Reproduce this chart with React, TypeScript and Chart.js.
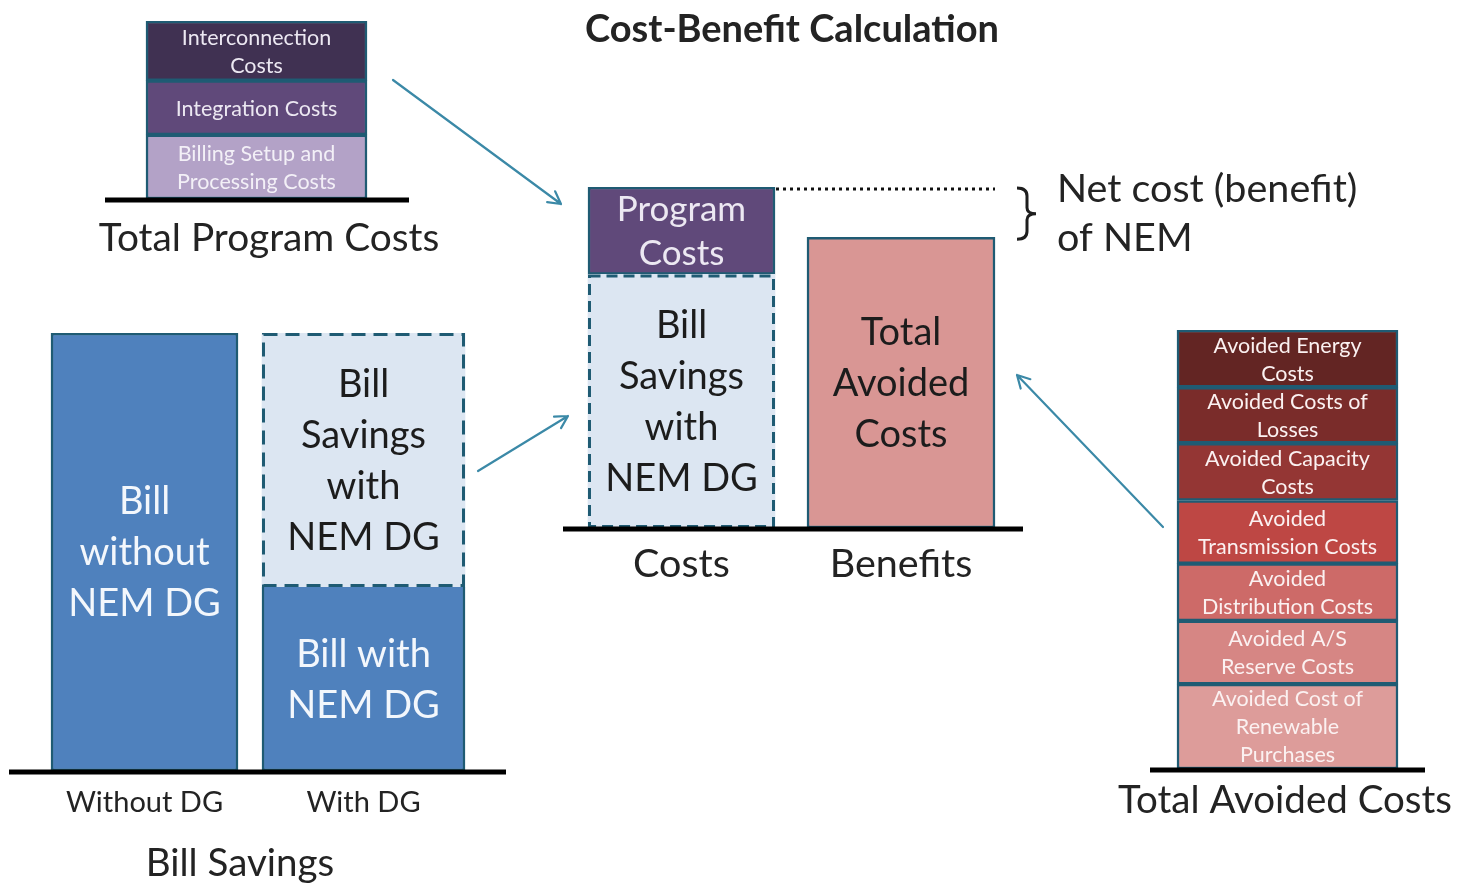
import React, { useEffect, useRef } from "react";
import { Chart, registerables } from "chart.js";

Chart.register(...registerables);

const PAGE_W = 1457;
const PAGE_H = 884;
const FONT = "Lato, 'Open Sans', sans-serif";
const BORDER = "#1f5b73";
const ARROW = "#3b89a7";
const TEXT = "#232323";
const AXIS_H = 70;

// ---------------- Data ----------------
// Total Program Costs (stack order: bottom -> top)
const programCostLines = [["Billing Setup and", "Processing Costs"], ["Integration Costs"], ["Interconnection", "Costs"]];
const programCostValues = [7.2, 6.1, 6.7];
const programCostColors = ["#b3a2c7", "#60497a", "#403152"];
const programCostTextColors = ["#f3f0f7", "#ece8f2", "#ece8f2"];

// Bill Savings
const billCategories = ["Without DG", "With DG"];
const billWithoutValues = [100, null];
const billWithValues = [null, 42];
const billSavingsValues = [null, 58];

// Cost-Benefit Calculation
const cbCategories = ["Costs", "Benefits"];
const cbBillSavings = [58, null];
const cbProgramCosts = [20, null];
const cbAvoidedCosts = [null, 66.5];

// Total Avoided Costs (stack order: bottom -> top)
const avoidedLines = [
  ["Avoided Cost of", "Renewable", "Purchases"],
  ["Avoided A/S", "Reserve Costs"],
  ["Avoided", "Distribution Costs"],
  ["Avoided", "Transmission Costs"],
  ["Avoided Capacity", "Costs"],
  ["Avoided Costs of", "Losses"],
  ["Avoided Energy", "Costs"],
];
const avoidedValues = [12.9, 9.6, 8.7, 9.6, 8.7, 8.5, 8.7];
const avoidedColors = ["#dd9c9a", "#d68684", "#cd6a68", "#be4744", "#943634", "#7a2c2a", "#632523"];

// ---------------- Helpers ----------------
type Area = { left: number; right: number; top: number; bottom: number };
type Caption = { text: string; x: number; y: number; size: number; bold?: boolean; align?: CanvasTextAlign };

function segment(label: string, data: (number | null)[], color: string, thickness: number, extra: any = {}) {
  return {
    label,
    data,
    backgroundColor: color,
    borderColor: BORDER,
    borderWidth: 2.5,
    borderSkipped: false,
    barThickness: thickness,
    ...extra,
  };
}

function diagramPlugin(baseline: { x1: number; x2: number } | null, captions: Caption[]) {
  return {
    id: "diagram",
    afterDatasetsDraw(chart: any) {
      const ctx: CanvasRenderingContext2D = chart.ctx;
      const area = chart.chartArea;
      ctx.save();
      chart.data.datasets.forEach((ds: any, di: number) => {
        const meta = chart.getDatasetMeta(di);
        meta.data.forEach((bar: any, i: number) => {
          if (ds.data[i] == null) return;
          const { x, y, base, width } = bar.getProps(["x", "y", "base", "width"], true);
          const top = Math.min(y, base);
          const bottom = Math.max(y, base);
          const left = x - width / 2;
          if (ds.dashed) {
            ctx.save();
            ctx.strokeStyle = BORDER;
            ctx.lineWidth = 3;
            ctx.setLineDash(ds.dashed);
            ctx.strokeRect(left + 1.5, top + 1.5, width - 3, bottom - top - 3);
            ctx.restore();
          }
          const lines: string[] | null = ds.innerLabels ? ds.innerLabels[i] : null;
          if (lines) {
            ctx.save();
            ctx.fillStyle = Array.isArray(ds.labelColor) ? ds.labelColor[i] : ds.labelColor;
            ctx.font = `${ds.labelSize}px ${FONT}`;
            ctx.textAlign = "center";
            ctx.textBaseline = "middle";
            const cy = (top + bottom) / 2 + 1;
            const lh = ds.labelLineHeight;
            lines.forEach((t, k) => ctx.fillText(t, x, cy + (k - (lines.length - 1) / 2) * lh));
            ctx.restore();
          }
        });
      });
      if (baseline) {
        ctx.save();
        ctx.strokeStyle = "#000";
        ctx.lineWidth = 5;
        ctx.beginPath();
        ctx.moveTo(baseline.x1, area.bottom + 1);
        ctx.lineTo(baseline.x2, area.bottom + 1);
        ctx.stroke();
        ctx.restore();
      }
      captions.forEach((c) => {
        ctx.save();
        ctx.fillStyle = TEXT;
        ctx.font = `${c.bold ? "bold " : ""}${c.size}px ${FONT}`;
        ctx.textAlign = c.align || "center";
        ctx.textBaseline = "alphabetic";
        ctx.fillText(c.text, c.x, c.y);
        ctx.restore();
      });
      ctx.restore();
    },
  };
}

function drawArrow(ctx: CanvasRenderingContext2D, x1: number, y1: number, x2: number, y2: number) {
  const ang = Math.atan2(y2 - y1, x2 - x1);
  const len = 14;
  const spread = 0.5;
  ctx.save();
  ctx.strokeStyle = ARROW;
  ctx.lineWidth = 2.2;
  ctx.lineCap = "round";
  ctx.lineJoin = "round";
  ctx.beginPath();
  ctx.moveTo(x1, y1);
  ctx.lineTo(x2, y2);
  ctx.moveTo(x2 - len * Math.cos(ang - spread), y2 - len * Math.sin(ang - spread));
  ctx.lineTo(x2, y2);
  ctx.lineTo(x2 - len * Math.cos(ang + spread), y2 - len * Math.sin(ang + spread));
  ctx.stroke();
  ctx.restore();
}

const annotationPlugin = {
  id: "cbAnnotations",
  afterDatasetsDraw(chart: any) {
    const ctx: CanvasRenderingContext2D = chart.ctx;
    const progBar: any = chart.getDatasetMeta(1).data[0];
    const benBar: any = chart.getDatasetMeta(2).data[1];
    const costsTop = progBar.y;
    const costsRight = progBar.x + progBar.width / 2;
    const benTop = benBar.y;
    const benRight = benBar.x + benBar.width / 2;
    ctx.save();
    // title
    ctx.fillStyle = TEXT;
    ctx.font = `bold 38px ${FONT}`;
    ctx.textAlign = "center";
    ctx.fillText("Cost-Benefit Calculation", 792, 42);
    // dotted line
    ctx.strokeStyle = "#111";
    ctx.lineWidth = 3;
    ctx.setLineDash([3, 4]);
    ctx.beginPath();
    ctx.moveTo(costsRight + 1, costsTop + 2);
    ctx.lineTo(benRight, costsTop + 2);
    ctx.stroke();
    ctx.setLineDash([]);
    // brace
    const bx = benRight + 22;
    const y1 = costsTop + 1;
    const y2 = benTop + 2;
    const ym = (y1 + y2) / 2;
    ctx.strokeStyle = "#1e1e1e";
    ctx.lineWidth = 3;
    ctx.beginPath();
    ctx.moveTo(bx, y1);
    ctx.quadraticCurveTo(bx + 10, y1, bx + 10, y1 + 8);
    ctx.lineTo(bx + 10, ym - 6);
    ctx.quadraticCurveTo(bx + 10, ym, bx + 19, ym);
    ctx.quadraticCurveTo(bx + 10, ym, bx + 10, ym + 6);
    ctx.lineTo(bx + 10, y2 - 8);
    ctx.quadraticCurveTo(bx + 10, y2, bx, y2);
    ctx.stroke();
    // net cost text
    ctx.fillStyle = TEXT;
    ctx.font = `39.5px ${FONT}`;
    ctx.textAlign = "left";
    ctx.fillText("Net cost (benefit)", 1057, 202);
    ctx.fillText("of NEM", 1057, 251);
    // arrows
    drawArrow(ctx, 393, 80, 561, 204);
    drawArrow(ctx, 478, 471, 568, 416);
    drawArrow(ctx, 1163, 527, 1017, 375);
    ctx.restore();
  },
};

function buildChart(
  canvas: HTMLCanvasElement,
  spec: {
    area: Area;
    categories: string[];
    datasets: any[];
    yMax: number;
    ticks?: { size: number; padding: number };
    baseline: { x1: number; x2: number };
    captions: Caption[];
    extraPlugins?: any[];
  }
) {
  const hasTicks = !!spec.ticks;
  return new Chart(canvas, {
    type: "bar",
    data: { labels: spec.categories, datasets: spec.datasets },
    options: {
      responsive: false,
      animation: false,
      devicePixelRatio: 1,
      events: [],
      layout: {
        padding: {
          left: spec.area.left,
          right: PAGE_W - spec.area.right,
          top: spec.area.top,
          bottom: PAGE_H - spec.area.bottom - (hasTicks ? AXIS_H : 0),
        },
      },
      plugins: { legend: { display: false }, tooltip: { enabled: false }, title: { display: false } },
      scales: {
        x: {
          stacked: true,
          display: hasTicks,
          grid: { display: false, drawTicks: false },
          border: { display: false },
          ticks: {
            display: hasTicks,
            color: TEXT,
            font: { family: FONT, size: spec.ticks ? spec.ticks.size : 12 },
            padding: spec.ticks ? spec.ticks.padding : 0,
            maxRotation: 0,
            autoSkip: false,
          },
          afterFit: (scale: any) => {
            scale.height = hasTicks ? AXIS_H : 0;
          },
        },
        y: { stacked: true, display: false, min: 0, max: spec.yMax },
      },
    } as any,
    plugins: [diagramPlugin(spec.baseline, spec.captions), ...(spec.extraPlugins || [])],
  });
}

const sum = (a: number[]) => a.reduce((s, v) => s + v, 0);

const BIG = 38;

const builders: ((c: HTMLCanvasElement) => Chart)[] = [
  // Total Program Costs
  (c) =>
    buildChart(c, {
      area: { left: 105, right: 408, top: 21, bottom: 199 },
      categories: ["Total Program Costs"],
      yMax: sum(programCostValues),
      datasets: programCostValues.map((v, i) =>
        segment(programCostLines[i].join(" "), [v], programCostColors[i], 221, {
          innerLabels: [programCostLines[i]],
          labelColor: programCostTextColors[i],
          labelSize: 21.5,
          labelLineHeight: 28,
        })
      ),
      baseline: { x1: 105, x2: 409 },
      captions: [{ text: "Total Program Costs", x: 269, y: 251, size: 38.8 }],
    }),
  // Bill Savings
  (c) =>
    buildChart(c, {
      area: { left: 35, right: 473, top: 333, bottom: 771 },
      categories: billCategories,
      yMax: 100,
      ticks: { size: 29, padding: 14 },
      datasets: [
        segment("Bill without NEM DG", billWithoutValues, "#4f81bd", 187, {
          innerLabels: [["Bill", "without", "NEM DG"], null],
          labelColor: "#f3f7fc",
          labelSize: BIG,
          labelLineHeight: 51,
        }),
        segment("Bill with NEM DG", billWithValues, "#4f81bd", 203, {
          borderSkipped: "top",
          innerLabels: [null, ["Bill with", "NEM DG"]],
          labelColor: "#f3f7fc",
          labelSize: BIG,
          labelLineHeight: 51,
        }),
        segment("Bill Savings with NEM DG", billSavingsValues, "#dce6f2", 203, {
          borderWidth: 0,
          dashed: [14, 8],
          innerLabels: [null, ["Bill", "Savings", "with", "NEM DG"]],
          labelColor: "#1c1c1c",
          labelSize: BIG,
          labelLineHeight: 51,
        }),
      ],
      baseline: { x1: 9, x2: 506 },
      captions: [{ text: "Bill Savings", x: 240, y: 876, size: 38.5 }],
    }),
  // Cost-Benefit Calculation
  (c) =>
    buildChart(c, {
      area: { left: 571.75, right: 1010.75, top: 187, bottom: 528 },
      categories: cbCategories,
      yMax: 78,
      ticks: { size: 39.5, padding: 13 },
      datasets: [
        segment("Bill Savings with NEM DG", cbBillSavings, "#dce6f2", 187, {
          borderWidth: 0,
          dashed: [11, 6],
          innerLabels: [["Bill", "Savings", "with", "NEM DG"], null],
          labelColor: "#1c1c1c",
          labelSize: BIG,
          labelLineHeight: 51,
        }),
        segment("Program Costs", cbProgramCosts, "#60497a", 187, {
          innerLabels: [["Program", "Costs"], null],
          labelColor: "#ece8f2",
          labelSize: 35,
          labelLineHeight: 44,
        }),
        segment("Total Avoided Costs", cbAvoidedCosts, "#d99694", 188, {
          innerLabels: [null, ["Total", "Avoided", "Costs"]],
          labelColor: "#1c1c1c",
          labelSize: BIG,
          labelLineHeight: 51,
        }),
      ],
      baseline: { x1: 563, x2: 1023 },
      captions: [],
      extraPlugins: [annotationPlugin],
    }),
  // Total Avoided Costs
  (c) =>
    buildChart(c, {
      area: { left: 1150, right: 1425, top: 330, bottom: 769 },
      categories: ["Total Avoided Costs"],
      yMax: sum(avoidedValues),
      datasets: avoidedValues.map((v, i) =>
        segment(avoidedLines[i].join(" "), [v], avoidedColors[i], 221, {
          innerLabels: [avoidedLines[i]],
          labelColor: "#fbf1f1",
          labelSize: 21.5,
          labelLineHeight: 28,
        })
      ),
      baseline: { x1: 1150, x2: 1425 },
      captions: [{ text: "Total Avoided Costs", x: 1285, y: 813, size: 38.5 }],
    }),
];

function DiagramCanvas({ build }: { build: (c: HTMLCanvasElement) => Chart }) {
  const ref = useRef<HTMLCanvasElement>(null);
  useEffect(() => {
    if (!ref.current) return;
    const chart = build(ref.current);
    return () => chart.destroy();
  }, [build]);
  return (
    <canvas
      ref={ref}
      width={PAGE_W}
      height={PAGE_H}
      style={{ position: "absolute", left: 0, top: 0, width: PAGE_W, height: PAGE_H }}
    />
  );
}

export default function App() {
  return (
    <div
      style={{
        position: "absolute",
        left: 0,
        top: 0,
        width: PAGE_W,
        height: PAGE_H,
        background: "#ffffff",
        overflow: "hidden",
      }}
    >
      {builders.map((b, i) => (
        <DiagramCanvas key={i} build={b} />
      ))}
    </div>
  );
}
